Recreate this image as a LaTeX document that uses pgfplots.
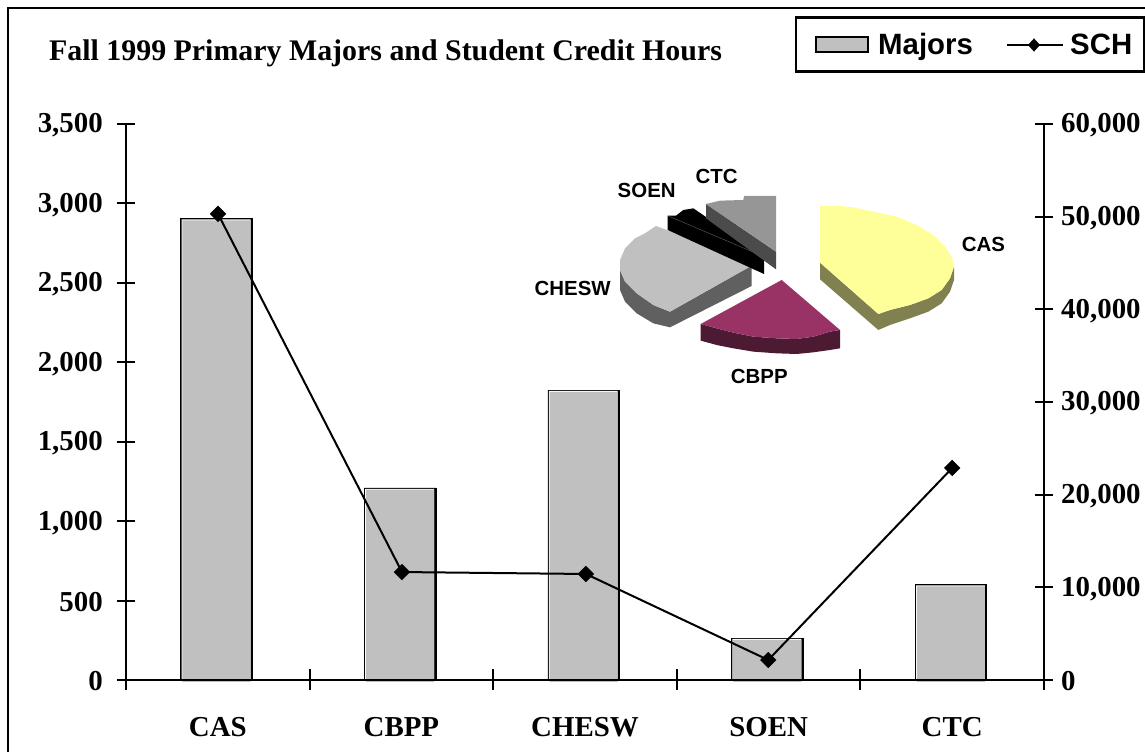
\documentclass[border=0pt]{standalone}
\usepackage{fontspec}
\setmainfont{Liberation Serif}
\newfontfamily\arialbf[BoldFont={Liberation Sans Bold}]{Liberation Sans}
\usepackage{pgfplots}
\pgfplotsset{compat=1.18}
\definecolor{barg}{HTML}{C0C0C0}
\definecolor{yel}{HTML}{FFFF99}
\definecolor{yels}{HTML}{808050}
\definecolor{mar}{HTML}{993366}
\definecolor{mars}{HTML}{4D1A33}
\definecolor{gr}{HTML}{C0C0C0}
\definecolor{grs}{HTML}{606060}
\definecolor{ct}{HTML}{969696}
\definecolor{cts}{HTML}{4B4B4B}
\newcommand{\tickfont}{\fontsize{29}{29}\selectfont\bfseries}
\newcommand{\piefont}{\arialbf\fontsize{20.5}{20.5}\selectfont\bfseries}
\newcommand{\legfont}{\arialbf\fontsize{29.5}{29.5}\selectfont\bfseries}
\pgfplotstableread{
x m
-0.007 2905
0.993 1209
1.993 1825
2.993 264
3.993 601
}\majors
\begin{document}
\begin{tikzpicture}[x=1bp,y=1bp]
\path[use as bounding box] (0,0) rectangle (1145,752);
% Left axis with bars
\begin{axis}[
  at={(126bp,72bp)}, anchor=south west,
  scale only axis, width=918bp, height=556bp,
  xmin=-0.5, xmax=4.5, ymin=0, ymax=3500,
  axis x line=none, axis y line*=left,
  axis line style={line width=2bp,-},
  ytick={0,500,1000,1500,2000,2500,3000,3500},
  tick style={line width=2bp,black},
  ytick align=center,
  major tick length=18bp,
  yticklabel style={font=\tickfont, inner sep=0pt, anchor=east, xshift=-14bp, yshift=-1.5bp},
  /pgf/number format/assume math mode=true,
  /pgf/number format/1000 sep={,},
  scaled y ticks=false,
  clip=false,
]
\addplot[ybar, bar width=71.5bp, bar shift=0pt, fill=black, draw=black, line width=0.6bp] table[x=x,y=m] {\majors};
\addplot[ybar, bar width=68.9bp, bar shift=-0.45bp, fill=white, draw=none, yshift=-0.9bp] table[x=x,y=m] {\majors};
\addplot[ybar, bar width=68.1bp, bar shift=-0.05bp, fill=barg, draw=none, yshift=-1.8bp] table[x=x,y=m] {\majors};
\end{axis}
% Category axis
\begin{axis}[
  at={(126bp,72bp)}, anchor=south west,
  scale only axis, width=918bp, height=556bp,
  xmin=-0.5, xmax=4.5, ymin=0, ymax=3500,
  axis y line=none, axis x line*=bottom,
  axis line style={line width=2bp,-},
  xtick={-0.5,0.5,1.5,2.5,3.5,4.5}, xticklabels={},
  tick style={line width=2bp,black},
  xtick align=center,
  major tick length=21bp,
  extra x ticks={0,1,2,3,4},
  extra x tick labels={CAS,CBPP,CHESW,SOEN,CTC},
  extra x tick style={tick style={draw=none}, tick label style={yshift=-46bp, inner sep=0pt, anchor=base, font=\tickfont}},
  clip=false,
]
\addplot[draw=none] coordinates {(0,0)};
\end{axis}
% Right axis with line
\begin{axis}[
  at={(126bp,72bp)}, anchor=south west,
  scale only axis, width=918bp, height=556bp,
  xmin=-0.5, xmax=4.5, ymin=0, ymax=60000,
  axis x line=none, axis y line*=right,
  axis line style={line width=2bp,-},
  ytick={0,10000,20000,30000,40000,50000,60000},
  tick style={line width=2bp,black},
  ytick align=center,
  major tick length=18bp,
  yticklabel style={font=\tickfont, inner sep=0pt, anchor=west, xshift=8bp, yshift=-1.5bp},
  /pgf/number format/assume math mode=true,
  /pgf/number format/1000 sep={,},
  scaled y ticks=false,
  clip=false,
]
\addplot[black, line width=2bp, mark=diamond*, mark size=6.8bp, mark options={fill=black,solid,xscale=1.33}]
  coordinates {(0.001,50300)(1.003,11650)(2.005,11440)(2.998,2160)(4.0,22880)};
\end{axis}
% Frame, title, legend in picture pixels
\begin{axis}[
  at={(0bp,0bp)}, anchor=south west,
  scale only axis, width=1145bp, height=752bp,
  xmin=0, xmax=1145, ymin=0, ymax=752, y dir=reverse,
  hide axis, clip=false,
]
\addplot[black, line width=2.2bp] coordinates {(8,752)(8,8)(1145,8)};
\addplot[fill=white, draw=black, line width=2.2bp] coordinates {(796,17.5)(1144,17.5)(1144,71.5)(796,71.5)} --cycle;
\addplot[fill=barg, draw=black, line width=1.8bp] coordinates {(816,37)(868,37)(868,52)(816,52)} --cycle;
\addplot[black, line width=1.6bp] coordinates {(1007,45)(1063,45)};
\addplot[black, only marks, mark=diamond*, mark size=6.3bp, mark options={fill=black,xscale=1.2}] coordinates {(1034,45)};
\node[anchor=base west, inner sep=0pt, font=\legfont] at (axis cs:878,55) {Majors};
\node[anchor=base west, inner sep=0pt, font=\legfont] at (axis cs:1070,55) {SCH};
\node[anchor=base west, inner sep=0pt, font=\fontsize{30}{30}\selectfont\bfseries] at (axis cs:49,61) {Fall 1999 Primary Majors and Student Credit Hours};
\end{axis}
% Inset pie, coordinates at three times the pixel size
\begin{axis}[
  at={(520bp,352bp)}, anchor=south west,
  scale only axis, width=500bp, height=250bp,
  xmin=0, xmax=1500, ymin=0, ymax=750, y dir=reverse,
  hide axis, clip=false,
]
\addplot[fill=yels, draw=none] coordinates {(900,338)(1075,492)(1110,480)(1170,465)(1225,445)(1265,420)(1290,385)(1302,350)(1302,390)(1290,425)(1265,460)(1225,485)(1170,505)(1110,525)(1075,540)(900,388)} --cycle;
\addplot[fill=yel, draw=none] coordinates {(900,168)(960,168)(1000,172)(1060,185)(1130,200)(1190,225)(1240,255)(1275,290)(1295,320)(1302,350)(1290,385)(1265,420)(1225,445)(1170,465)(1110,480)(1075,492)(900,338)} --cycle;
\addplot[fill=mars, draw=none] coordinates {(542,522)(590,535)(640,548)(700,560)(770,565)(830,567)(880,560)(930,545)(960,540)(960,595)(930,600)(880,607)(830,612)(770,610)(700,605)(640,595)(590,585)(542,572)} --cycle;
\addplot[fill=mar, draw=none] coordinates {(785,390)(960,540)(930,545)(880,560)(830,567)(770,565)(700,560)(640,548)(590,535)(542,522)} --cycle;
\addplot[fill=grs, draw=none] coordinates {(695,347)(695,408)(450,532)(400,520)(350,490)(315,455)(300,420)(300,360)(315,395)(350,430)(400,465)(450,485)} --cycle;
\addplot[fill=gr, draw=none] coordinates {(695,347)(450,485)(400,465)(350,430)(315,395)(300,360)(300,330)(315,295)(345,265)(375,250)(408,228)(440,240)} --cycle;
\addplot[fill=black, draw=none] coordinates {(443,197)(468,197)(490,180)(520,175)(732,320)(732,372)(443,240)} --cycle;
\addplot[color=grs, line width=0.4bp] coordinates {(445,198)(732,320)};
\addplot[fill=cts, draw=none] coordinates {(558,162)(768,305)(768,358)(558,205)} --cycle;
\addplot[fill=ct, draw=none] coordinates {(768,138)(768,305)(558,162)(600,152)(670,150)(672,138)} --cycle;
\node[font=\piefont, inner sep=0pt] at (axis cs:1390,283) {CAS};
\node[font=\piefont, inner sep=0pt] at (axis cs:718,680) {CBPP};
\node[font=\piefont, inner sep=0pt] at (axis cs:158,415) {CHESW};
\node[font=\piefont, inner sep=0pt] at (axis cs:380,122) {SOEN};
\node[font=\piefont, inner sep=0pt] at (axis cs:590,78) {CTC};
\end{axis}
\end{tikzpicture}
\end{document}
